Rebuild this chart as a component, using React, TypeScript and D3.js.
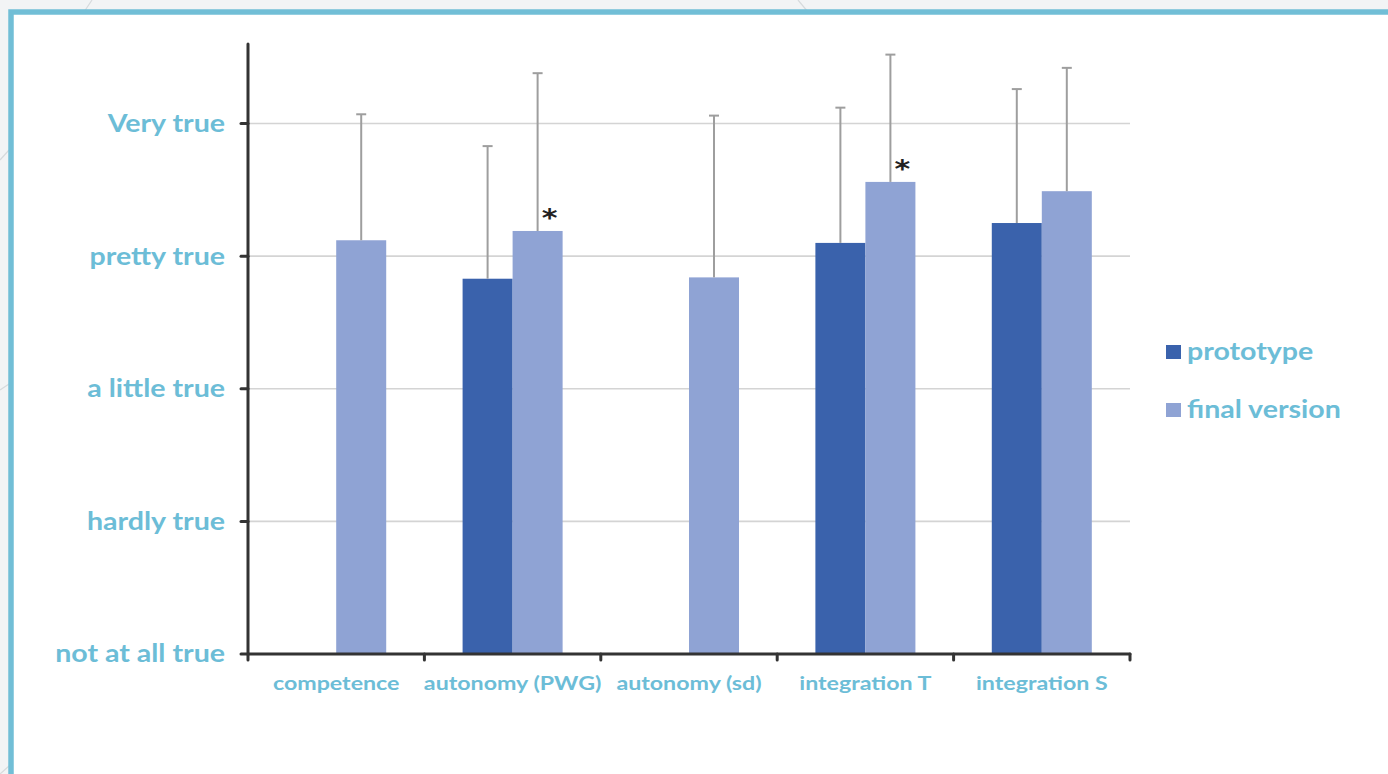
import React from "react";
import * as d3 from "d3";

// Rating scale of the questionnaire items (1 = not at all true ... 5 = very true)
const levelLabels = ["not at all true", "hardly true", "a little true", "pretty true", "Very true"];
const levelValues = [1, 2, 3, 4, 5];

const categories = ["competence", "autonomy (PWG)", "autonomy (sd)", "integration T", "integration S"];
const seriesNames = ["prototype", "final version"];

// Mean ratings and standard deviations per version (null = item not asked)
const prototypeMeans = [null, 3.83, null, 4.1, 4.25];
const prototypeSD = [null, 1.0, null, 1.02, 1.01];
const finalMeans = [4.12, 4.19, 3.84, 4.56, 4.49];
const finalSD = [0.95, 1.19, 1.22, 0.96, 0.93];

// Significant improvement of the final version
const significant = [false, true, false, true, false];

const W = 1388;
const H = 774;
const TEXT = "#6cbdd7";
const COLORS = ["#3a62ac", "#8fa3d4"];
const FONT = "Lato, 'Open Sans', sans-serif";
const STRETCH = 1.19; // wide lettering

function Label({ x, y, children, anchor = "start", dy = "0" }: any) {
  return (
    <text transform={`translate(${x},${y}) scale(${STRETCH},1)`} textAnchor={anchor} dy={dy}>
      {children}
    </text>
  );
}

export default function App() {
  const x0 = d3.scaleBand<string>().domain(categories).range([248, 1130]).paddingInner(0.433).paddingOuter(0.2165);
  const x1 = d3.scaleBand<string>().domain(seriesNames).range([0, x0.bandwidth()]);
  const y = d3.scaleLinear().domain([1, 5.6]).range([654, 44]);

  const step = x0.step();
  const [xl, xr] = x0.range();
  const yBase = y(1);

  const data = seriesNames.map((s, si) => ({
    name: s,
    color: COLORS[si],
    means: si === 0 ? prototypeMeans : finalMeans,
    sds: si === 0 ? prototypeSD : finalSD,
  }));

  return (
    <svg width={W} height={H} style={{ position: "absolute", left: 0, top: 0 }} fontFamily={FONT}>
      {/* slide backdrop and framed panel */}
      <rect x={0} y={0} width={W} height={H} fill="#f2f4f5" />
      <g stroke="#d6dadc" strokeWidth={1.2} fill="none">
        <line x1={92} y1={0} x2={84} y2={12} />
        <line x1={798} y1={0} x2={808} y2={12} />
        <line x1={0} y1={160} x2={9} y2={150} />
        <line x1={0} y1={390} x2={9} y2={384} />
        <line x1={0} y1={774} x2={9} y2={766} />
      </g>
      <rect x={11} y={12} width={W + 20} height={H + 20} fill="#ffffff" stroke="#71bed6" strokeWidth={5.5} />

      {/* horizontal gridlines */}
      <g stroke="#d4d4d4" strokeWidth={1.6}>
        {levelValues.slice(1).map((v) => (
          <line key={v} x1={xl} x2={xr} y1={y(v)} y2={y(v)} />
        ))}
      </g>

      {/* bars */}
      {data.map((s) => (
        <g key={s.name} fill={s.color}>
          {categories.map((c, i) =>
            s.means[i] == null ? null : (
              <rect
                key={c}
                x={(x0(c) as number) + (x1(s.name) as number)}
                y={y(s.means[i] as number)}
                width={x1.bandwidth()}
                height={yBase - y(s.means[i] as number)}
              />
            )
          )}
        </g>
      ))}

      {/* error bars (mean + SD) */}
      {data.map((s) => (
        <g key={s.name + "-err"} stroke="#9e9e9e" strokeWidth={2}>
          {categories.map((c, i) => {
            if (s.means[i] == null) return null;
            const cx = (x0(c) as number) + (x1(s.name) as number) + x1.bandwidth() / 2;
            const top = y((s.means[i] as number) + (s.sds[i] as number));
            return (
              <g key={c}>
                <line x1={cx} x2={cx} y1={y(s.means[i] as number)} y2={top} />
                <line x1={cx - 5} x2={cx + 5} y1={top} y2={top} />
              </g>
            );
          })}
        </g>
      ))}

      {/* significance markers */}
      {categories.map((c, i) =>
        significant[i] ? (
          <text
            key={c}
            transform={`translate(${(x0(c) as number) + (x1(seriesNames[1]) as number) + x1.bandwidth() / 2 + 12},${y(finalMeans[i]) - 5}) scale(1.25,1)`}
            textAnchor="middle"
            fontSize={24}
            fontWeight={700}
            fill="#222"
            fontFamily="'DejaVu Sans', sans-serif"
          >
            *
          </text>
        ) : null
      )}

      {/* axes */}
      <g stroke="#333" strokeWidth={3} strokeLinecap="round">
        <line x1={xl} x2={xl} y1={y(5.6)} y2={yBase} />
        <line x1={xl} x2={xr} y1={yBase} y2={yBase} />
        {levelValues.map((v) => (
          <line key={v} x1={xl - 7} x2={xl} y1={y(v)} y2={y(v)} />
        ))}
        {d3.range(categories.length + 1).map((k) => (
          <line key={k} x1={xl + k * step} x2={xl + k * step} y1={yBase} y2={yBase + 6} />
        ))}
      </g>

      {/* y tick labels */}
      <g fill={TEXT} fontWeight={700} fontSize={24}>
        {levelValues.map((v, i) => (
          <Label key={v} x={225} y={y(v)} dy="0.35em" anchor="end">
            {levelLabels[i]}
          </Label>
        ))}
      </g>

      {/* x tick labels */}
      <g fill={TEXT} fontWeight={700} fontSize={19.5}>
        {categories.map((c) => (
          <Label key={c} x={(x0(c) as number) + x0.bandwidth() / 2} y={690} anchor="middle">
            {c}
          </Label>
        ))}
      </g>

      {/* legend */}
      <g fontWeight={700} fontSize={24} fill={TEXT}>
        {seriesNames.map((s, i) => (
          <g key={s} transform={`translate(1166, ${345 + i * 58})`}>
            <rect x={0} y={0} width={15} height={14} fill={COLORS[i]} />
            <Label x={21} y={7} dy="0.35em">
              {s}
            </Label>
          </g>
        ))}
      </g>
    </svg>
  );
}
